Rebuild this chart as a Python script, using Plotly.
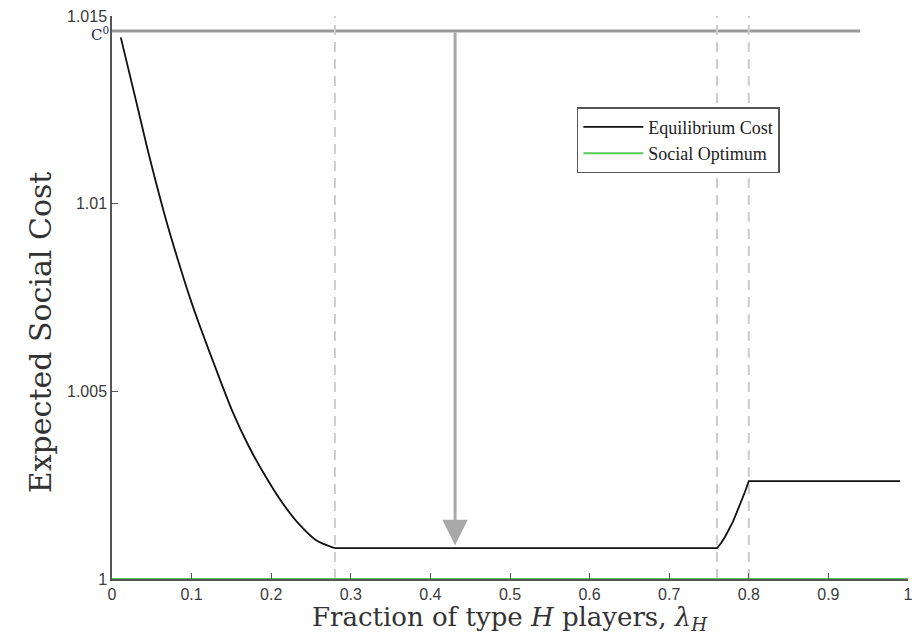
import plotly.graph_objects as go

# ---- data ----
# descending branch of the equilibrium cost (lambda_H <= 0.28)
dec_x = [0.011, 0.031, 0.047, 0.068, 0.085, 0.097, 0.110, 0.131, 0.151, 0.172,
         0.193, 0.214, 0.235, 0.256, 0.28]
dec_y = [1.01443, 1.01267, 1.01125, 1.00956, 1.00835, 1.00755, 1.00676, 1.00557,
         1.00448, 1.00353, 1.00273, 1.00203, 1.00146, 1.00104, 1.00082]
# flat / rising / flat branch (lambda_H >= 0.28)
rest_x = [0.28, 0.76, 0.765, 0.77, 0.78, 0.79, 0.795, 0.80, 0.99]
rest_y = [1.00082, 1.00082, 1.00095, 1.00112, 1.00152, 1.00203, 1.00231, 1.00261, 1.00261]
opt_x = [0.0, 1.0]
opt_y = [1.0, 1.0]
c0_value = 1.0146
c0_x = [0.0, 0.94]
thresholds = [0.28, 0.76, 0.80]
arrow_x = 0.431
arrow_tip_y = 1.0009
x_ticks = [0, 0.1, 0.2, 0.3, 0.4, 0.5, 0.6, 0.7, 0.8, 0.9, 1]
x_tick_text = ["0", "0.1", "0.2", "0.3", "0.4", "0.5", "0.6", "0.7", "0.8", "0.9", "1"]
y_ticks = [1, 1.005, 1.01, 1.015]
y_tick_text = ["1", "1.005", "1.01", "1.015"]

TITLE_FONT = "DejaVu Serif, Liberation Serif, serif"
LEG_FONT = "Liberation Serif, DejaVu Serif, serif"
SANS = "Liberation Sans, Arial, sans-serif"

fig = go.Figure()

# C0 horizontal line
fig.add_trace(go.Scatter(x=c0_x, y=[c0_value] * len(c0_x), mode="lines",
                         line=dict(color="#9a9a9a", width=3), showlegend=False,
                         hoverinfo="skip"))

# dashed thresholds
for t in thresholds:
    fig.add_trace(go.Scatter(x=[t, t], y=[1.0, 1.015], mode="lines",
                             line=dict(color="#cccccc", width=2, dash="10px,7px"),
                             showlegend=False, hoverinfo="skip"))

fig.add_trace(go.Scatter(x=dec_x, y=dec_y, mode="lines", name="Equilibrium Cost",
                         legendgroup="eq", showlegend=False,
                         line=dict(color="#111111", width=1.8, shape="spline",
                                   smoothing=0.8)))
fig.add_trace(go.Scatter(x=rest_x, y=rest_y, mode="lines", name="Equilibrium Cost",
                         legendgroup="eq",
                         line=dict(color="#111111", width=1.8)))
fig.add_trace(go.Scatter(x=opt_x, y=opt_y, mode="lines", name="Social Optimum",
                         line=dict(color="#55c855", width=2), cliponaxis=False))

# arrow
fig.add_annotation(x=arrow_x, y=arrow_tip_y, ax=arrow_x, ay=c0_value,
                   xref="x", yref="y", axref="x", ayref="y", text="",
                   showarrow=True, arrowhead=2, arrowsize=1.7, arrowwidth=3,
                   arrowcolor="#a8a8a8")

# C0 label
fig.add_annotation(x=0, y=c0_value, xref="paper", yref="y", xanchor="right",
                   yanchor="middle", xshift=-1, yshift=-3, showarrow=False,
                   text="C<sup>0</sup>",
                   font=dict(family=TITLE_FONT, size=15, color="#1e2c5a"))

# axis titles as annotations for exact placement
fig.add_annotation(x=0.5, y=-0.0373, xref="paper", yref="paper",
                   xanchor="center", yanchor="top", showarrow=False,
                   text="Fraction of type <i>H</i> players, <i>λ</i><sub><i>H</i></sub>",
                   font=dict(family=TITLE_FONT, size=26, color="#333333"))
fig.add_annotation(x=-0.09, y=0.439, xref="paper", yref="paper",
                   xanchor="center", yanchor="middle", showarrow=False,
                   textangle=-90, text="Expected Social Cost",
                   font=dict(family=TITLE_FONT, size=30, color="#333333"))

fig.update_layout(
    width=919, height=634,
    margin=dict(l=112, r=6, t=16, b=55),
    paper_bgcolor="white", plot_bgcolor="white",
    showlegend=True,
    legend=dict(x=0.584, y=0.838, xanchor="left", yanchor="top",
                bgcolor="white", bordercolor="#555555", borderwidth=1.5,
                font=dict(family=LEG_FONT, size=18, color="#222222"),
                tracegroupgap=0, itemwidth=60),
    xaxis=dict(range=[0, 1], tickvals=x_ticks, ticktext=x_tick_text,
               showgrid=False, zeroline=False, showline=True,
               linecolor="#555555", linewidth=1.5, ticks="inside",
               ticklen=6, tickcolor="#555555", tickwidth=1.2,
               tickfont=dict(family=SANS, size=16, color="#3a3a3a")),
    yaxis=dict(range=[1, 1.015], tickvals=y_ticks, ticktext=y_tick_text,
               showgrid=False, zeroline=False, showline=True,
               linecolor="#555555", linewidth=1.5, ticks="inside",
               ticklen=6, tickcolor="#555555", tickwidth=1.2,
               tickfont=dict(family=SANS, size=16, color="#3a3a3a")),
)

fig.write_html("out.html")
